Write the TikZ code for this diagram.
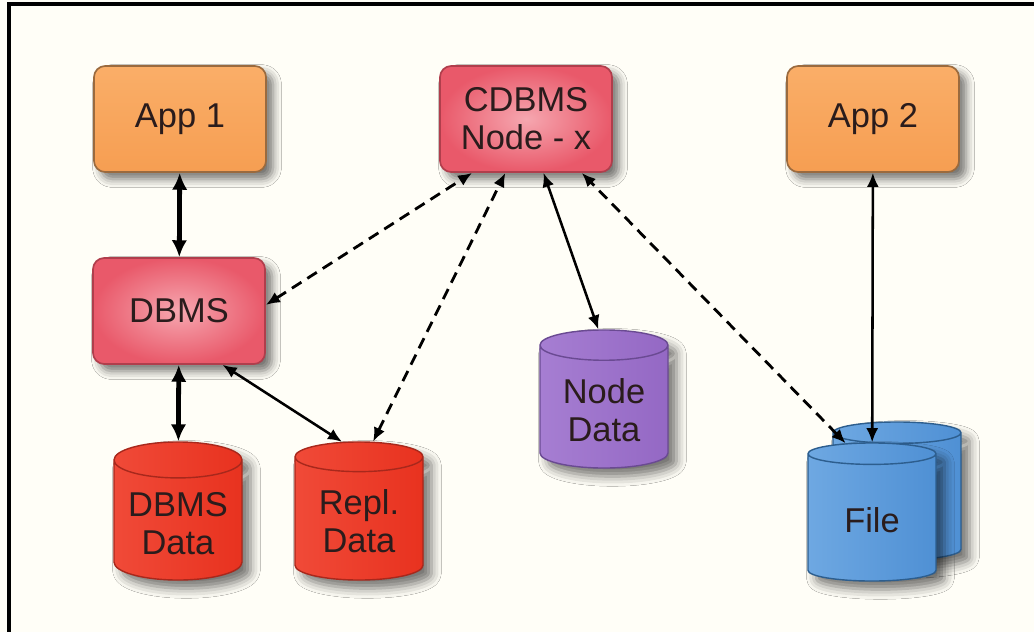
\documentclass[tikz,border=0pt]{standalone}
\usepackage{fontspec}
\setmainfont{Liberation Sans}
\usetikzlibrary{shapes.geometric,shadows.blur,arrows.meta}
\definecolor{paper}{HTML}{FFFEF7}
\definecolor{inkdark}{HTML}{2A1C1C}
\definecolor{apptop}{HTML}{FAAE68}
\definecolor{appbottom}{HTML}{F69E52}
\definecolor{appline}{HTML}{9A6A3E}
\definecolor{dbin}{HTML}{F6A7B0}
\definecolor{dbout}{HTML}{E9596A}
\definecolor{dbline}{HTML}{B03E4C}
\definecolor{redleft}{HTML}{F04A38}
\definecolor{redright}{HTML}{E8321F}
\definecolor{redline}{HTML}{A8281C}
\definecolor{purpleleft}{HTML}{A67ED2}
\definecolor{purpleright}{HTML}{9468C4}
\definecolor{purpleline}{HTML}{6A4A92}
\definecolor{blueleft}{HTML}{6EA8E2}
\definecolor{blueright}{HTML}{4F90D4}
\definecolor{blueline}{HTML}{2D5E8E}
\begin{document}
\begin{tikzpicture}[x=0.025cm,y=-0.025cm,font=\fontsize{24.5}{27}\selectfont]
    \tikzstyle{box}=[rectangle,rounded corners=8pt,line width=1.2pt,minimum width=4.3cm,minimum height=2.65cm,align=center,text=inkdark,
        blur shadow={shadow xshift=5pt,shadow yshift=-5pt,shadow blur radius=6pt,shadow opacity=55}]
    \tikzstyle{app box}=[box,draw=appline,top color=apptop,bottom color=appbottom]
    \tikzstyle{dbms box}=[box,draw=dbline,inner color=dbin,outer color=dbout]
    \tikzstyle{store}=[cylinder,shape border rotate=90,aspect=0.33,anchor=shape center,line width=1pt,minimum width=3.2cm,minimum height=3.45cm,align=center,text=inkdark,
        blur shadow={shadow xshift=6pt,shadow yshift=-6pt,shadow blur radius=7pt,shadow opacity=55}]
    \tikzstyle{red store}=[store,draw=redline,left color=redleft,right color=redright]
    \tikzstyle{purple store}=[store,draw=purpleline,left color=purpleleft,right color=purpleright]
    \tikzstyle{blue store}=[store,draw=blueline,left color=blueleft,right color=blueright]
    \tikzstyle{link}=[{Latex[length=10pt,width=8.5pt]}-{Latex[length=10pt,width=8.5pt]},line width=1.8pt,draw=black]
    \tikzstyle{thick link}=[{Latex[length=12pt,width=11pt]}-{Latex[length=12pt,width=11pt]},line width=3.4pt,draw=black]
    \tikzstyle{remote link}=[link,line width=2pt,dash pattern=on 8pt off 5pt]
    % Paper and frame
    \useasboundingbox (0,0) rectangle (1034,632);
    \fill[paper] (0,0) rectangle (1034,632);
    \draw[line width=2.2pt] (9,632) -- (9,4) -- (1034,4);
    % Draw the boxes
    \node[app box] (app1) at (180,119) {App 1};
    \node[dbms box] (cdbms) at (526,119) {CDBMS\\Node - x};
    \node[app box] (app2) at (873,119) {App 2};
    \node[dbms box] (dbms) at (179,311) {DBMS};
    % Draw the data stores
    \node[red store] (dbmsdata) at (178,511) {DBMS\\Data};
    \node[red store] (repl) at (359,511) {Repl.\\Data};
    \node[purple store] (nodedata) at (604,399) {Node\\Data};
    \node[blue store] (fileback) at (897,491) {\phantom{File}};
    \node[blue store] (file) at (872,512) {File};
    % Connect the nodes
    \draw[thick link] (app1) -- (dbms);
    \draw[thick link] (dbms) -- (dbmsdata);
    \draw[link] (dbms.-51) -- (repl.102);
    \draw[link] (cdbms.-72) -- (nodedata.94);
    \draw[link] (app2) -- (file);
    % Dashed links to the CDBMS node
    \draw[remote link] (dbms.4) -- (cdbms.-135);
    \draw[remote link] (repl.80) -- (cdbms.-111);
    \draw[remote link] (file.109) -- (cdbms.-44.5);
\end{tikzpicture}
\end{document}
